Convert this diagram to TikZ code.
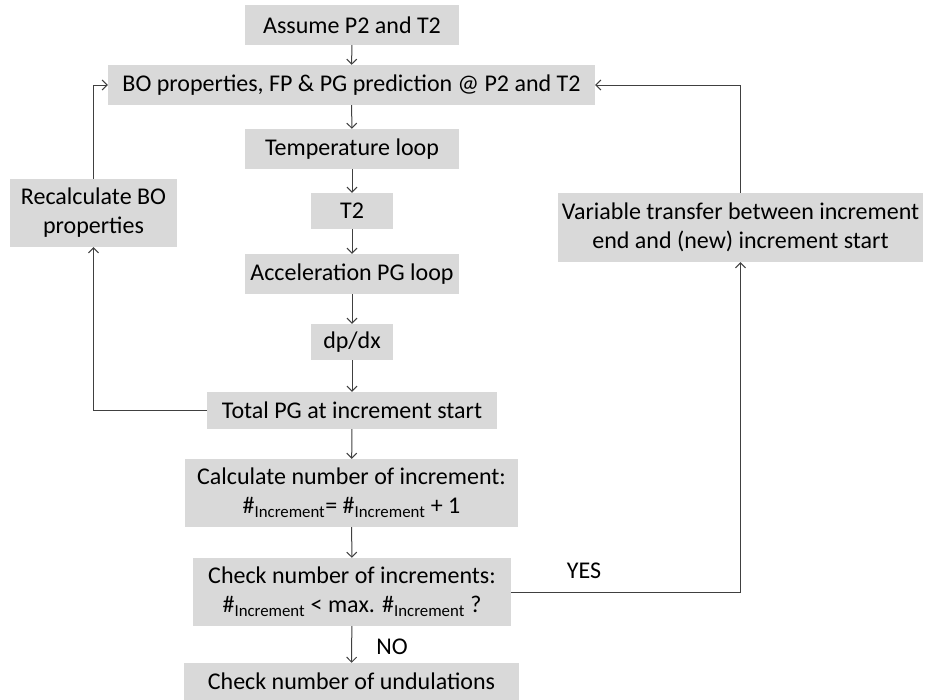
\documentclass[tikz,border=0pt]{standalone}
\usepackage{fontspec}
\setmainfont{Carlito}
\usetikzlibrary{arrows.meta}
\definecolor{boxgray}{HTML}{D9D9D9}
\definecolor{linegray}{HTML}{404040}
\tikzset{
  flowbox/.style={fill=boxgray, inner sep=0pt, align=center, text=black,
    font=\fontsize{24}{29}\selectfont},
  conn/.style={draw=linegray, line width=1pt, -{Straight Barb[length=5pt,width=10pt]}},
  lbl/.style={font=\fontsize{24}{29}\selectfont, inner sep=0pt, text=black}
}
\begin{document}
\begin{tikzpicture}[x=1pt,y=-1pt]
\useasboundingbox (0,0) rectangle (928,699);
\node[flowbox, minimum width=214pt, minimum height=40pt] (a1) at (352,25) {Assume P2 and T2};
\node[flowbox, minimum width=487pt, minimum height=40pt] (a2) at (351.5,85) {BO properties, FP \& PG prediction @ P2 and T2};
\node[flowbox, minimum width=214pt, minimum height=40pt] (temp) at (352,149) {Temperature loop};
\node[flowbox, minimum width=82pt, minimum height=36pt] (t2) at (352,211) {T2};
\node[flowbox, minimum width=214pt, minimum height=40pt] (acc) at (352,274) {Acceleration PG loop};
\node[flowbox, minimum width=82pt, minimum height=36pt] (dp) at (352,342) {dp/dx};
\node[flowbox, minimum width=290pt, minimum height=37pt] (tot) at (352,410.5) {Total PG at increment start};
\node[flowbox, minimum width=333pt, minimum height=68pt] (calc) at (351.5,493) {Calculate number of increment:\\ \#\textsubscript{Increment}= \#\textsubscript{Increment} + 1};
\node[flowbox, minimum width=318pt, minimum height=68pt] (chk) at (352,592) {Check number of increments:\\ \#\textsubscript{Increment} < max. \#\textsubscript{Increment} ?};
\node[flowbox, minimum width=335pt, minimum height=37pt] (und) at (351.5,681.5) {Check number of undulations};
\node[flowbox, minimum width=167pt, minimum height=68pt] (rec) at (93.5,213) {Recalculate BO\\ properties};
\node[flowbox, minimum width=365pt, minimum height=69pt] (var) at (740.5,227.5) {Variable transfer between increment\\ end and (new) increment start};
\node[lbl] (yes) at (584,571) {YES};
\node[lbl] (no) at (392,647) {NO};
\draw[conn] (a1) -- (a2);
\draw[conn] (a2) -- (temp);
\draw[conn] (temp) -- (t2);
\draw[conn] (t2) -- (acc);
\draw[conn] (acc) -- (dp);
\draw[conn] (dp) -- (tot);
\draw[conn] (tot) -- (calc);
\draw[conn] (calc) -- (chk);
\draw[conn] (chk) -- (und);
\draw[conn] (tot.west) -| (rec.south);
\draw[conn] (rec.north) |- (a2.west);
\draw[conn] (chk.east) -| (var.south);
\draw[conn] (var.north) |- (a2.east);
\end{tikzpicture}
\end{document}
